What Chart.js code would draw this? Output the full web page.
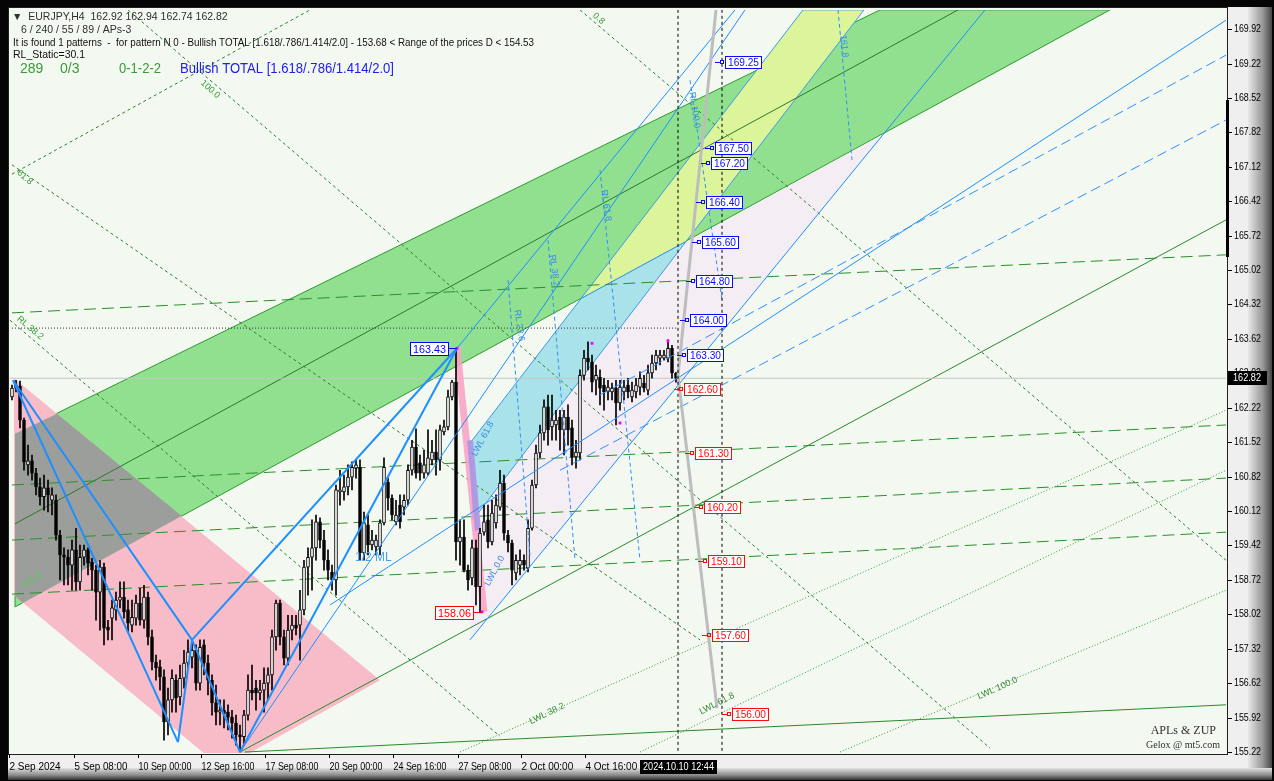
<!DOCTYPE html>
<html lang="en">
<head>
<meta charset="UTF-8">
<title>EURJPY,H4</title>
<script src="https://cdn.jsdelivr.net/npm/chart.js"></script>
<style>
  html, body { margin:0; padding:0; background:#000; }
  canvas { display:block; }
</style>
</head>
<body>
<canvas id="chart" width="1274" height="781"></canvas>
<script>
// candles, H4 bars, index 0 = first visible bar
const opens = [162.44,162.62,162.66,161.97,161.06,161.14,160.89,160.61,160.41,160.59,
160.34,160.34,159.63,159.23,159.18,159.02,159.33,158.68,159.18,159.33,
159.08,158.92,158.47,158.98,157.76,157.94,158.11,158.31,158.37,158.11,
157.80,157.94,158.25,157.90,158.37,157.56,157.05,156.95,156.75,155.83,
156.28,156.68,156.34,156.72,157.03,157.15,157.29,156.62,157.40,157.03,
156.68,156.22,156.03,156.07,156.03,155.93,155.81,155.57,155.53,155.97,
156.48,156.52,156.42,156.48,156.62,156.79,157.56,158.25,157.56,157.13,
157.70,157.80,157.80,158.11,158.98,159.18,159.37,159.90,159.53,159.12,
158.88,158.72,160.51,160.51,160.61,160.81,160.99,161.01,159.27,159.84,
159.43,159.39,159.39,159.88,160.71,160.38,159.90,160.24,160.20,160.34,
160.95,161.42,161.10,160.89,160.89,161.16,161.32,161.16,161.73,161.83,
162.44,162.74,159.49,159.59,158.92,158.76,159.37,158.58,159.69,159.94,
159.49,159.88,160.20,160.69,159.63,159.47,158.86,159.02,159.12,158.96,
159.77,160.65,161.30,161.71,162.24,161.83,161.87,162.03,161.77,162.03,
161.81,161.22,161.30,162.88,163.23,163.15,162.78,162.84,162.68,162.54,
162.54,162.62,162.32,162.54,162.68,162.44,162.54,162.64,162.72,162.58,
162.93,163.13,163.23,163.23,163.23,163.43,162.92];
const highs = [162.68,162.78,162.76,162.01,161.46,161.26,160.99,160.79,160.85,160.75,
160.59,160.45,159.73,159.37,159.33,159.53,159.77,159.43,159.43,159.37,
159.16,159.02,159.12,159.06,157.90,158.31,158.47,158.68,158.68,158.31,
158.31,158.41,158.55,158.61,158.47,157.70,157.19,157.09,156.89,156.52,
156.89,156.79,156.99,157.29,157.50,157.50,157.40,157.50,157.50,157.19,
156.79,156.58,156.28,156.28,156.18,156.07,155.97,155.77,156.07,156.79,
156.99,156.68,156.68,156.93,156.93,157.70,158.31,158.31,157.70,158.00,
158.00,158.00,158.51,159.12,159.37,159.94,160.04,159.98,159.73,159.33,
159.02,160.65,160.95,160.85,161.06,161.12,161.16,161.16,160.10,160.04,
159.73,159.63,159.94,161.20,160.79,160.45,160.34,160.45,160.45,161.06,
161.56,161.79,161.26,161.36,161.77,161.56,161.77,161.87,161.97,162.58,
162.78,163.43,159.94,159.94,159.02,159.53,159.53,159.77,160.24,160.24,
160.34,160.45,160.95,160.85,159.73,159.53,159.23,159.33,159.23,159.94,
160.75,161.46,161.87,162.38,162.48,162.48,162.17,162.17,162.17,162.28,
161.97,161.56,162.99,163.39,163.56,163.29,163.09,162.99,162.82,162.78,
162.72,162.78,162.78,162.78,162.82,162.74,162.82,162.95,162.88,163.09,
163.29,163.39,163.39,163.39,163.60,163.49,162.94];
const lows = [162.38,162.54,161.81,160.95,160.85,160.75,160.45,160.24,160.14,160.10,
160.04,159.53,158.72,158.62,158.62,158.51,158.51,158.51,159.02,158.82,
158.51,157.90,157.70,157.40,157.50,157.50,157.90,158.15,157.94,157.66,
157.66,157.80,157.80,157.74,157.40,156.89,156.68,156.48,155.46,155.57,
156.03,156.03,156.18,156.52,156.93,156.93,156.48,156.48,156.79,156.38,
155.97,155.77,155.77,155.71,155.67,155.50,155.36,155.22,155.36,155.87,
156.28,156.07,156.28,156.03,156.28,156.48,157.29,157.40,156.99,156.99,
157.50,157.60,157.09,158.01,158.41,158.51,159.12,159.37,158.92,158.72,
158.51,158.41,160.24,160.34,160.45,160.55,160.79,159.12,159.12,159.23,
159.33,159.23,159.23,159.84,160.14,159.94,159.84,159.77,160.04,160.24,
160.85,160.79,160.75,160.79,160.85,161.06,160.85,160.95,161.67,161.77,
162.38,159.12,159.02,158.88,158.51,158.62,158.21,158.06,159.63,159.37,
159.43,159.77,160.14,159.53,159.29,158.62,158.72,158.82,158.92,158.88,
159.73,160.59,161.20,161.56,161.46,161.56,161.56,161.36,161.26,161.46,
161.06,160.99,161.16,162.78,162.99,162.54,162.48,162.28,162.17,162.38,
162.38,161.87,162.17,162.38,162.42,162.34,162.42,162.48,162.54,162.48,
162.82,162.99,163.09,163.19,163.15,162.82,162.74];
const closes = [162.62,162.68,161.97,161.12,161.14,160.89,160.61,160.41,160.59,160.45,
160.45,159.63,159.23,159.18,159.02,159.33,158.68,159.18,159.33,159.06,
158.92,158.47,158.98,157.74,157.70,158.15,158.31,158.37,158.07,157.84,
157.96,158.25,157.90,158.37,157.56,157.05,156.93,156.75,155.83,156.28,
156.72,156.32,156.72,157.03,157.25,157.29,156.62,157.35,157.03,156.68,
156.22,156.03,156.07,155.99,155.93,155.81,155.57,155.53,155.97,156.48,
156.42,156.42,156.48,156.62,156.79,157.56,158.25,157.56,157.13,157.70,
157.80,157.74,158.11,158.98,159.18,159.37,159.90,159.53,159.12,158.92,
158.72,160.55,160.55,160.61,160.81,161.01,161.06,159.27,159.88,159.43,
159.53,159.53,159.88,161.01,160.38,160.04,160.04,159.90,160.34,160.95,
161.42,160.89,160.89,161.06,161.20,161.32,161.16,161.77,161.83,162.44,
162.74,159.49,159.59,158.92,158.72,159.37,158.58,159.67,159.90,159.49,
160.08,160.24,160.69,159.67,159.47,158.92,159.12,159.12,159.02,159.77,
160.65,161.30,161.71,162.24,161.77,161.97,161.97,161.77,162.03,161.77,
161.22,161.32,162.88,163.23,163.15,162.74,162.88,162.62,162.54,162.64,
162.62,162.32,162.64,162.64,162.54,162.58,162.68,162.82,162.62,162.93,
163.13,163.29,163.29,163.29,163.43,162.93,162.82];

// axes
const priceTicks = [169.92,169.22,168.52,167.82,167.12,166.42,165.72,165.02,164.32,163.62,162.92,
  162.22,161.52,160.82,160.12,159.42,158.72,158.02,157.32,156.62,155.92,155.22];
const timeTicks = [-0.75,15.5,31.5,47.25,63.25,79.25,95.25,111.5,127.25,143.25];
const timeLabels = ['2 Sep 2024','5 Sep 08:00','10 Sep 00:00','12 Sep 16:00','17 Sep 08:00',
  '20 Sep 00:00','24 Sep 16:00','27 Sep 08:00','2 Oct 00:00','4 Oct 16:00'];

// filled channels [bar, price]
const greenBand = [[0.75,161.69],[217,170.31],[274.5,170.31],[0.75,158.17]];
const pinkBand = [[0.5,162.82],[92,156.68],[52.5,154.89],[0.5,158.41]];
const grayPart = [[0.75,161.69],[11.25,162.10],[42.4,160.02],[2.75,158.25],[0.75,158.39]];
const lavenderPart = [[115.25,159.94],[168.5,165.59],[218,167.79],[114.5,157.50]];
const cyanBand = [[114.5,161.50],[115.25,159.94],[168.5,165.60],[142.25,164.44]];
const yellowBand = [[142.25,164.44],[168.5,165.60],[213,170.31],[197.75,170.31]];
const greenMedian = [[0.75,159.86],[236.5,170.31]];

// pattern zigzag X A B D C
const zigzag = [
  [[0.25,162.78],[41.5,155.42]], [[0.25,162.78],[45,157.50]], [[41.5,155.42],[45,157.50]],
  [[45,157.50],[57,155.22]], [[57,155.22],[111.25,163.43]], [[45,157.50],[111.25,163.43]]];
const blueLines = [
  [[111.25,163.43],[180.75,170.31]], [[57,155.22],[183.25,170.31]],
  [[79.5,158.21],[303.5,170.10]], [[114.5,157.50],[243.25,170.31]]];
const blueDashed = [[[147,162.48],[303.5,169.39]], [[137,160.95],[303.5,168.07]]];
const rlLines = [
  [[124,164.82],[129.5,159.22]], [[134,165.63],[140.75,159.12]], [[147,167.05],[157,159.12]],
  [[169.5,168.88],[177.5,164.41]], [[206.5,170.31],[210,167.26]]];
const greenDashLevels = [
  [[0,164.15],[303.5,165.33]], [[0,160.65],[303.5,161.87]],
  [[0,159.53],[303.5,160.79]], [[0,158.43],[303.5,159.69]]];
const greenSolid = [[[57,155.22],[303.5,166.04]], [[58.25,155.22],[303.5,156.18]]];
const greenDotted = [[[112,155.22],[303.5,162.17]], [[157,155.22],[303.5,160.95]], [[207,155.22],[303.5,158.51]]];
const greenFineDash = [
  [[-0.5,164.00],[122,155.54]], [[29,170.31],[244.5,155.30]], [[0,167.16],[172,157.50]],
  [[142,170.31],[303.5,159.12]], [[0,166.97],[74.5,170.31]]];
const grayPath = [[176,170.31],[166.5,162.88],[176.25,156.11]];
const pinkLeg = [[111.25,163.43],[118,158.07]];
const purpleLeg = [[114.5,161.56],[116.5,159.73]];
const pivots = [[111.25,163.43],[145,163.53],[152,161.91],[164,163.58],[117.5,158.07]];
const nowBar = 166.5, futureBar = 177.5, highLine = 163.84;

// target levels
const levelPrices = [169.25,167.50,167.20,166.40,165.60,164.80,164.00,163.30,162.60,161.30,160.20,159.10,157.60,156.00];
const levelAt = [178.25,175.75,174.75,173.5,172.5,171,169.5,168.75,168,170.75,173,174,175,180];
const pointLabels = [[163.43,111.25,'#0000ff'],[158.06,117.5,'#ff0000']];

const xy = pts => pts.map(p => ({x:p[0], y:p[1]}));
const close = pts => xy(pts.concat([pts[0]]));
function shape(pts, fillColor, border, order) {
  return {type:'line', data:close(pts), fill:'shape', backgroundColor:fillColor,
    borderColor:border || 'rgba(0,0,0,0)', borderWidth:border ? 1 : 0, pointRadius:0, order};
}
function seg(pts, color, width, dash, order) {
  return {type:'line', data:xy(pts), borderColor:color, borderWidth:width, borderDash:dash || [],
    pointRadius:0, fill:false, order};
}

const datasets = [
  shape(greenBand, '#90e090', '#2e9a2e', 30),
  shape(pinkBand, '#f7bcc7', null, 29),
  shape(grayPart, '#9c9e9c', null, 28),
  shape(lavenderPart, '#f5edf4', null, 27),
  shape(cyanBand, '#a9e3e9', '#3a9ae8', 26),
  shape(yellowBand, '#dcf49a', '#3a9ae8', 26),
  seg(greenMedian, '#2a7a2a', 1, [], 25),
];
greenFineDash.forEach(s => datasets.push(seg(s, '#2f7d2f', 1, [3,3], 20)));
greenDotted.forEach(s => datasets.push(seg(s, '#2f9a2f', 1, [1,2], 20)));
greenDashLevels.forEach(s => datasets.push(seg(s, '#2a902a', 1, [12,6], 19)));
greenSolid.forEach(s => datasets.push(seg(s, '#2a8a2a', 1, [], 19)));
datasets.push(seg([[-0.5,closes[closes.length-1]],[303.5,closes[closes.length-1]]], '#c4c4c4', 1, [], 18));
datasets.push(seg([[0,highLine],[nowBar,highLine]], '#333', 1, [1,2], 18));
datasets.push(seg(pinkLeg, 'rgba(250,160,195,0.85)', 7, [], 17));
datasets.push(seg(purpleLeg, 'rgba(170,150,230,0.9)', 6, [], 16));
datasets.push({type:'bar', data:closes.map((c,i) => ({x:i, y:[lows[i], highs[i]]})),
  backgroundColor:'#000', borderWidth:0, barThickness:1, grouped:false, order:12});
datasets.push({type:'bar', data:closes.map((c,i) => ({x:i, y:[opens[i], c]})),
  backgroundColor:closes.map((c,i) => c >= opens[i] ? '#ffffff' : '#000000'),
  borderColor:'#000', borderWidth:1, borderSkipped:false, barThickness:3, minBarLength:1, grouped:false, order:11});
rlLines.forEach(s => datasets.push(seg(s, '#2f8fff', 1, [4,3], 8)));
blueDashed.forEach(s => datasets.push(seg(s, '#2f8fff', 1, [10,5], 8)));
blueLines.forEach(s => datasets.push(seg(s, '#1e8fff', 1, [], 7)));
zigzag.forEach(s => datasets.push(seg(s, '#1e8fff', 2, [], 6)));
datasets.push(seg(grayPath, '#bdbdbd', 3, [], 5));
datasets.push(seg([[nowBar,155],[nowBar,171]], '#000', 1, [3,3], 4));
datasets.push(seg([[futureBar,155],[futureBar,171]], '#000', 1, [3,3], 4));
datasets.push({type:'line', data:xy(pivots), showLine:false, pointStyle:'rect', pointRadius:2,
  pointBackgroundColor:'#ff00ff', pointBorderWidth:0, order:1});

const tags = [
  ['1/2 ML', 85.75, 159.18, 0, '#4aa0ff', '12px "Liberation Sans"'],
  ['LWL 38.2', 129.5, 155.83, -26, '#3a8a3a', '9px "Liberation Sans"'],
  ['LWL 61.8', 172, 156.03, -27, '#3a8a3a', '9px "Liberation Sans"'],
  ['LWL 100.0', 241.5, 156.34, -24, '#3a8a3a', '9px "Liberation Sans"'],
  ['RL 23.6', 126.25, 164.21, 82, '#3a8ae8', '9px "Liberation Sans"'],
  ['RL 38.2', 135, 165.33, 82, '#3a8ae8', '9px "Liberation Sans"'],
  ['RL 61.8', 148, 166.65, 82, '#3a8ae8', '9px "Liberation Sans"'],
  ['RL 100.0', 170, 168.64, 82, '#3a8ae8', '9px "Liberation Sans"'],
  ['161.8', 207.75, 169.80, 84, '#3a8ae8', '9px "Liberation Sans"'],
  ['LWL 0.0', 118.75, 158.61, -62, '#3a8ae8', '9px "Liberation Sans"'],
  ['LWL 61.8', 115.5, 161.25, -62, '#3a8ae8', '9px "Liberation Sans"'],
  ['RL 38.2', 1.5, 164.05, 40, '#3a9a3a', '9px "Liberation Sans"'],
  ['61.8', 1.5, 167.02, 40, '#3a9a3a', '9px "Liberation Sans"'],
  ['100.0', 47.5, 168.85, 42, '#3a9a3a', '9px "Liberation Sans"'],
  ['0.8', 145.5, 170.22, 42, '#3a9a3a', '9px "Liberation Sans"'],
  ['161.8', 2.5, 158.60, -30, '#5ac85a', '9px "Liberation Sans"'],
];

const frame = {
  id:'frame',
  beforeDraw(chart) {
    const {ctx, chartArea:a} = chart;
    ctx.save();
    ctx.fillStyle = '#050505'; ctx.fillRect(0, 0, 1274, 781);
    ctx.fillStyle = '#efefef'; ctx.fillRect(8, 7, 1250, 764);
    let g = ctx.createLinearGradient(1248, 0, 1272, 0);
    g.addColorStop(0, '#e8e8e8'); g.addColorStop(0.6, '#9a9a9a'); g.addColorStop(1, '#444');
    ctx.fillStyle = g; ctx.fillRect(1248, 7, 24, 766);
    g = ctx.createLinearGradient(0, 768, 0, 780);
    g.addColorStop(0, '#e0e0e0'); g.addColorStop(0.6, '#8a8a8a'); g.addColorStop(1, '#333');
    ctx.fillStyle = g; ctx.fillRect(8, 768, 1264, 12);
    ctx.fillStyle = '#f3f9f1'; ctx.fillRect(a.left - 1, a.top - 2, a.right - a.left + 2, a.bottom - a.top + 3);
    ctx.restore();
  },
  afterDraw(chart) {
    const {ctx, chartArea:a, scales:{x:xs, y:ys}} = chart;
    ctx.save();
    ctx.strokeStyle = '#202020'; ctx.lineWidth = 1;
    ctx.strokeRect(a.left - 1.5, a.top - 2.5, a.right - a.left + 3, a.bottom - a.top + 4);

    // rotated tags
    ctx.textBaseline = 'middle';
    tags.forEach(([s, bx, p, ang, col, font]) => {
      ctx.save();
      ctx.translate(xs.getPixelForValue(bx), ys.getPixelForValue(p));
      ctx.rotate(ang * Math.PI / 180);
      ctx.font = font; ctx.fillStyle = col; ctx.fillText(s, 0, 0);
      ctx.restore();
    });

    // target level boxes
    const last = closes[closes.length - 1];
    ctx.font = '11px "Liberation Sans"';
    levelPrices.forEach((p, i) => {
      const x = Math.round(xs.getPixelForValue(levelAt[i])), y = Math.round(ys.getPixelForValue(p));
      const col = p > last ? '#0a0aff' : '#ff0a0a';
      ctx.strokeStyle = col; ctx.fillStyle = col;
      ctx.beginPath(); ctx.moveTo(x - 10, y + 0.5); ctx.lineTo(x - 4, y + 0.5); ctx.stroke();
      ctx.strokeRect(x - 4.5, y - 1.5, 3, 3);
      ctx.fillStyle = '#fff'; ctx.fillRect(x, y - 6, 37, 13);
      ctx.strokeRect(x + 0.5, y - 5.5, 36, 12);
      ctx.fillStyle = col; ctx.fillText(p.toFixed(2), x + 3, y + 1, 31);
    });
    pointLabels.forEach(([p, bx, col]) => {
      const x = Math.round(xs.getPixelForValue(bx)), y = Math.round(ys.getPixelForValue(p));
      ctx.strokeStyle = col;
      ctx.beginPath(); ctx.moveTo(x - 8, y + 0.5); ctx.lineTo(x, y + 0.5); ctx.stroke();
      ctx.fillStyle = '#fff'; ctx.fillRect(x - 47, y - 6, 39, 14);
      ctx.strokeRect(x - 46.5, y - 5.5, 38, 13);
      ctx.fillStyle = col; ctx.fillText(p.toFixed(2), x - 44, y + 1.5, 33);
    });

    // header
    ctx.textBaseline = 'middle';
    ctx.font = '10.5px "Liberation Sans"'; ctx.fillStyle = '#303030';
    ctx.fillText('\u25BC  EURJPY,H4  162.92 162.94 162.74 162.82', 12, 17);
    ctx.fillText('6 / 240 / 55 / 89 / APs-3', 21, 30);
    ctx.fillStyle = '#101010';
    ctx.fillText('It is found 1 patterns  -  for pattern N 0 - Bullish TOTAL [1.618/.786/1.414/2.0] - 153.68 < Range of the prices D < 154.53', 13, 43, 521);
    ctx.fillText('RL_Static=30.1', 13, 55);
    ctx.font = '14px "Liberation Sans"'; ctx.fillStyle = '#3a9a3a';
    ctx.fillText('289', 20, 69); ctx.fillText('0/3', 60, 69); ctx.fillText('0-1-2-2', 119, 69, 42);
    ctx.fillStyle = '#2020ee';
    ctx.fillText('Bullish TOTAL [1.618/.786/1.414/2.0]', 180, 69, 214);

    // signature
    ctx.fillStyle = '#303030'; ctx.textAlign = 'right';
    ctx.font = '12px "Liberation Serif"'; ctx.fillText('APLs & ZUP', 1216, 731);
    ctx.font = '10px "Liberation Serif"'; ctx.fillText('Gelox @ mt5.com', 1220, 745);
    ctx.textAlign = 'left';

    // price axis
    ctx.fillStyle = '#000'; ctx.strokeStyle = '#000';
    ctx.fillRect(1226, Math.round(ys.getPixelForValue(168.48)), 3, Math.round(ys.getPixelForValue(165.28) - ys.getPixelForValue(168.48)));
    ctx.font = '10.5px "Liberation Sans"';
    priceTicks.forEach(v => {
      const y = Math.round(ys.getPixelForValue(v)) + 0.5;
      ctx.beginPath(); ctx.moveTo(1228, y); ctx.lineTo(1232, y); ctx.stroke();
      ctx.fillText(v.toFixed(2), 1234, y, 27);
    });
    const cy = Math.round(ys.getPixelForValue(last));
    ctx.fillStyle = '#000'; ctx.fillRect(1228, cy - 7, 39, 14);
    ctx.fillStyle = '#fff'; ctx.fillText(last.toFixed(2), 1233, cy, 28);

    // time axis
    ctx.fillStyle = '#000';
    ctx.font = '10px "Liberation Sans"';
    timeTicks.forEach((t, i) => {
      const x = Math.round(xs.getPixelForValue(t)) + 0.5;
      ctx.beginPath(); ctx.moveTo(x, a.bottom + 1); ctx.lineTo(x, a.bottom + 5); ctx.stroke();
      ctx.fillText(timeLabels[i], x, 767, 53);
    });
    const nx = xs.getPixelForValue(nowBar);
    ctx.fillStyle = '#000'; ctx.fillRect(nx - 38, 760, 77, 14);
    ctx.fillStyle = '#fff'; ctx.fillText('2024.10.10 12:44', nx - 35, 767, 71);
    ctx.restore();
  }
};

new Chart(document.getElementById('chart'), {
  type:'bar',
  data:{datasets},
  options:{
    responsive:false, animation:false, devicePixelRatio:1, events:[],
    layout:{padding:{left:10, top:10, right:48, bottom:28}},
    plugins:{legend:{display:false}, tooltip:{enabled:false}},
    scales:{
      x:{type:'linear', min:-0.5, max:303.5, offset:false, display:false},
      y:{type:'linear', min:155.20, max:170.308, display:false}
    }
  },
  plugins:[frame]
});
</script>
</body>
</html>
